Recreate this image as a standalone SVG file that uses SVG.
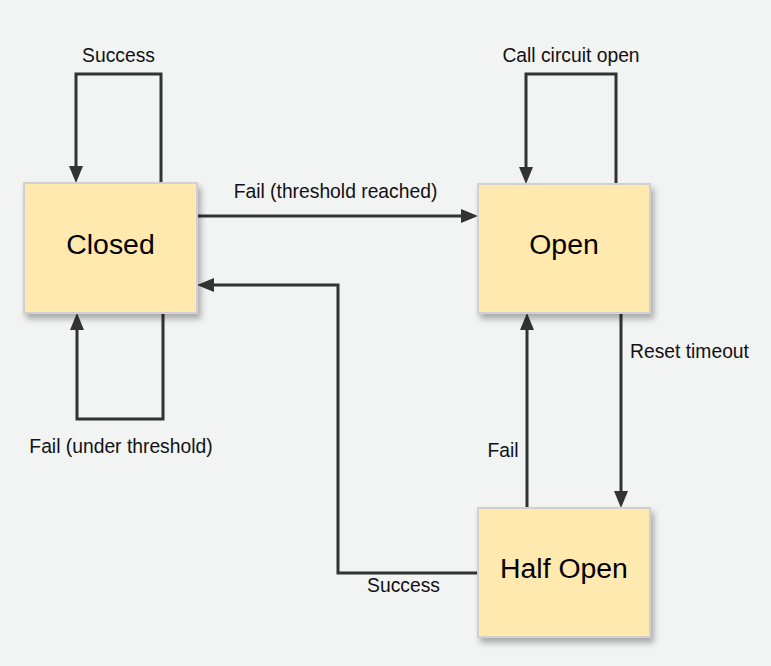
<svg xmlns="http://www.w3.org/2000/svg" width="771" height="666" viewBox="0 0 771 666">
  <style>
    .node rect { fill: #ffe9ae; stroke: #d0d0d0; stroke-width: 2; filter: url(#shadow); }
    .big { font-family: "Liberation Sans", Arial, sans-serif; font-size: 28.4px; fill: #000; text-anchor: middle; }
    .lbl { font-family: "Liberation Sans", Arial, sans-serif; font-size: 19.3px; fill: #111; }
    .conn { fill: none; stroke: #333; stroke-width: 3; }
  </style>
  <defs>
    <filter id="shadow" x="-20%" y="-20%" width="150%" height="150%">
      <feDropShadow dx="3" dy="5" stdDeviation="3" flood-color="#000" flood-opacity="0.3"/>
    </filter>
    <marker id="arrow" markerUnits="userSpaceOnUse" markerWidth="18" markerHeight="15" refX="7" refY="7" orient="auto">
      <path d="M0,0 L17,7 L0,14 z" fill="#333"/>
    </marker>
  </defs>
  <rect width="771" height="666" fill="#f2f3f3"/>

  <g id="connectors">
    <path class="conn" d="M161,183 V74 H76 V173" marker-end="url(#arrow)"/>
    <path class="conn" d="M163,313 V419 H77 V323" marker-end="url(#arrow)"/>
    <path class="conn" d="M197,216 H468" marker-end="url(#arrow)"/>
    <path class="conn" d="M616,184 V74 H526 V174" marker-end="url(#arrow)"/>
    <path class="conn" d="M621,313 V498" marker-end="url(#arrow)"/>
    <path class="conn" d="M527,508 V323" marker-end="url(#arrow)"/>
    <path class="conn" d="M478,573 H338 V285 H207" marker-end="url(#arrow)"/>
  </g>

  <g id="labels">
    <text class="lbl" x="118.5" y="62" text-anchor="middle">Success</text>
    <text class="lbl" x="121" y="453" text-anchor="middle">Fail (under threshold)</text>
    <text class="lbl" x="335.5" y="198" text-anchor="middle">Fail (threshold reached)</text>
    <text class="lbl" x="571" y="62" text-anchor="middle">Call circuit open</text>
    <text class="lbl" x="630" y="357.5">Reset timeout</text>
    <text class="lbl" x="503" y="457" text-anchor="middle">Fail</text>
    <text class="lbl" x="403.5" y="592" text-anchor="middle">Success</text>
  </g>

  <g id="closed" class="node">
    <rect x="24" y="183" width="173" height="130"/>
    <text class="big" x="110.5" y="254">Closed</text>
  </g>
  <g id="open" class="node">
    <rect x="478" y="184" width="172" height="129"/>
    <text class="big" x="564" y="254">Open</text>
  </g>
  <g id="half-open" class="node">
    <rect x="478" y="508" width="172" height="129"/>
    <text class="big" x="564" y="578">Half Open</text>
  </g>
</svg>
